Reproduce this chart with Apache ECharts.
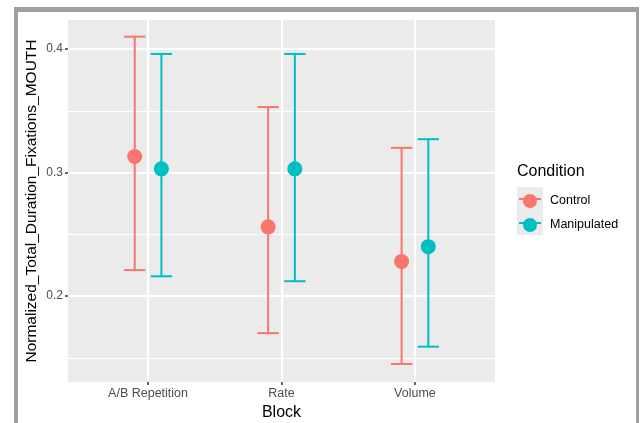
<!DOCTYPE html>
<html><head><meta charset="utf-8">
<script src="https://cdn.jsdelivr.net/npm/echarts@6/dist/echarts.min.js"></script>
<style>html,body{margin:0;padding:0;background:#fff}#c{width:641px;height:423px}</style>
</head><body><div id="c"></div>
<script>
var categories = ['A/B Repetition', 'Rate', 'Volume'];
var conditions = ['Control', 'Manipulated'];
var controlMean = [0.313, 0.256, 0.228];
var controlLow = [0.221, 0.170, 0.145];
var controlHigh = [0.410, 0.353, 0.320];
var manipMean = [0.303, 0.303, 0.240];
var manipLow = [0.216, 0.212, 0.159];
var manipHigh = [0.396, 0.396, 0.327];
var yMajorTicks = [0.2, 0.3, 0.4];
var yMinorTicks = [0.15, 0.25, 0.35];

var colors = ['#F8766D', '#00BFC4'];
var dodge = 0.1;
var capHalf = 0.08;

function pts(mean, offset) {
  return mean.map(function (v, i) { return [i + 1 + offset, v]; });
}
function bars(low, high, offset) {
  return low.map(function (v, i) { return [i + 1 + offset, v, high[i]]; });
}
function errRender(color) {
  return function (params, api) {
    var x = api.value(0);
    var lo = api.coord([x, api.value(1)]);
    var hi = api.coord([x, api.value(2)]);
    var w = api.size([capHalf, 0])[0];
    var st = { stroke: color, lineWidth: 2 };
    return { type: 'group', children: [
      { type: 'line', shape: { x1: lo[0], y1: lo[1], x2: hi[0], y2: hi[1] }, style: st },
      { type: 'line', shape: { x1: lo[0] - w, y1: lo[1], x2: lo[0] + w, y2: lo[1] }, style: st },
      { type: 'line', shape: { x1: hi[0] - w, y1: hi[1], x2: hi[0] + w, y2: hi[1] }, style: st }
    ]};
  };
}

var chart = echarts.init(document.getElementById('c'), null, { renderer: 'canvas' });
var font = 'Liberation Sans, Arial, sans-serif';
var yMin = 0.1304, yMax = 0.4235;
var keyY = [199, 223];
chart.setOption({
  animation: false,
  backgroundColor: '#ffffff',
  graphic: [
    { type: 'rect', shape: { x: 14, y: 7, width: 625, height: 5 }, style: { fill: '#A0A0A0' }, silent: true, z: 0 },
    { type: 'rect', shape: { x: 14, y: 7, width: 4, height: 416 }, style: { fill: '#A0A0A0' }, silent: true, z: 0 },
    { type: 'rect', shape: { x: 636, y: 7, width: 3, height: 416 }, style: { fill: '#A0A0A0' }, silent: true, z: 0 },
    { type: 'rect', shape: { x: 517, y: 187, width: 26, height: 48 }, style: { fill: '#EBEBEB' }, silent: true, z: 0 },
    { type: 'line', shape: { x1: 519, y1: keyY[0], x2: 541, y2: keyY[0] }, style: { stroke: colors[0], lineWidth: 2 }, silent: true, z: 0 },
    { type: 'line', shape: { x1: 519, y1: keyY[1], x2: 541, y2: keyY[1] }, style: { stroke: colors[1], lineWidth: 2 }, silent: true, z: 0 },
    { type: 'text', left: 517, top: 164, style: { text: 'Condition', font: '16px ' + font, fill: '#000' } }
  ],
  grid: { left: 68, top: 20, width: 427, height: 362, show: true, backgroundColor: '#EBEBEB', borderWidth: 0,
    outerBoundsMode: 'none', containLabel: false },
  xAxis: [{
    type: 'value', min: 0.4, max: 3.6,
    name: 'Block', nameLocation: 'middle', nameGap: 20,
    nameTextStyle: { fontSize: 16, color: '#000', fontFamily: font },
    axisLine: { show: false },
    axisTick: { show: true, length: 3, lineStyle: { color: '#333', width: 1.5 }, customValues: [1, 2, 3] },
    axisLabel: { customValues: [1, 2, 3], color: '#4D4D4D', fontSize: 12.5, fontFamily: font, margin: 5,
      formatter: function (v) { return categories[Math.round(v) - 1] || ''; } },
    splitLine: { show: true, lineStyle: { color: '#fff', width: 2 } }
  }],
  yAxis: [{
    type: 'value', min: yMin, max: yMax,
    name: 'Normalized_Total_Duration_Fixations_MOUTH', nameLocation: 'middle', nameGap: 28,
    nameMoveOverlap: false,
    nameTextStyle: { fontSize: 15.5, color: '#000', fontFamily: font },
    axisLine: { show: false },
    axisTick: { show: true, length: 3, lineStyle: { color: '#333', width: 1.5 }, customValues: yMajorTicks },
    axisLabel: { customValues: yMajorTicks, color: '#4D4D4D', fontSize: 12, fontFamily: font, margin: 5,
      formatter: function (v) { return v.toFixed(1); } },
    splitLine: { show: true, lineStyle: { color: '#fff', width: 2 } }
  }, {
    type: 'value', min: yMin, max: yMax, position: 'left',
    axisLine: { show: false },
    axisTick: { show: false, customValues: yMinorTicks },
    axisLabel: { show: false, customValues: yMinorTicks },
    splitLine: { show: true, lineStyle: { color: '#fff', width: 1 } }
  }],
  legend: {
    orient: 'vertical', left: 523, top: 194, itemGap: 10, padding: 0,
    itemWidth: 14, itemHeight: 14, icon: 'circle',
    textStyle: { fontSize: 12.5, color: '#000', fontFamily: font, padding: [0, 0, 0, 8] },
    data: conditions.map(function (n, i) {
      return { name: n, itemStyle: { color: colors[i] } };
    })
  },
  series: [
    { name: conditions[0], type: 'custom', renderItem: errRender(colors[0]), data: bars(controlLow, controlHigh, -dodge), z: 3, silent: true, encode: { x: 0, y: [1, 2] } },
    { name: conditions[1], type: 'custom', renderItem: errRender(colors[1]), data: bars(manipLow, manipHigh, dodge), z: 3, silent: true, encode: { x: 0, y: [1, 2] } },
    { name: conditions[0], type: 'scatter', symbolSize: 15, itemStyle: { color: colors[0], opacity: 1 }, data: pts(controlMean, -dodge), z: 4 },
    { name: conditions[1], type: 'scatter', symbolSize: 15, itemStyle: { color: colors[1], opacity: 1 }, data: pts(manipMean, dodge), z: 4 }
  ]
});
</script></body></html>
